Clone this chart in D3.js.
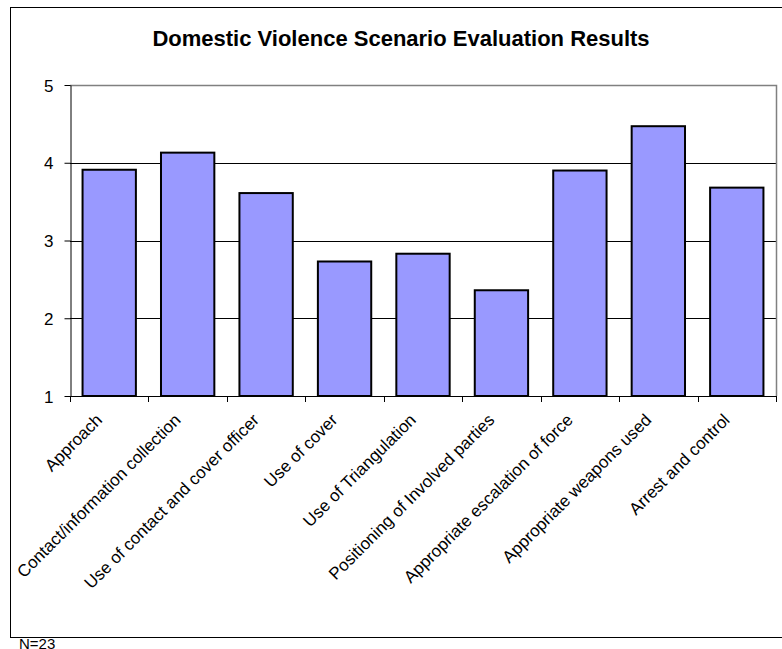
<!DOCTYPE html>
<html>
<head>
<meta charset="utf-8">
<script src="https://cdn.jsdelivr.net/npm/d3@7"></script>
<style>
    body { margin: 0; background: #fff; }
    svg { display: block; font-family: Arial, "Liberation Sans", sans-serif; }
</style>
</head>
<body>
<div id="chart"></div>
<script>
const categories = [
    'Approach',
    'Contact/information collection',
    'Use of contact and cover officer',
    'Use of cover',
    'Use of Triangulation',
    'Positioning of Involved parties',
    'Appropriate escalation of force',
    'Appropriate weapons used',
    'Arrest and control'
]
const scores = [3.91, 4.13, 3.61, 2.73, 2.83, 2.36, 3.90, 4.47, 3.68]
const yTicks = [1, 2, 3, 4, 5]

const title = 'Domestic Violence Scenario Evaluation Results'
const note = 'N=23'

const width = 782, height = 649
const margin = {left: 70, top: 85, right: 776, bottom: 396}

const svg = d3.select('#chart').append('svg')
    .attr('width', width)
    .attr('height', height)

// outer chart border (right edge runs past the window)
svg.append('rect')
    .attr('x', 10.5)
    .attr('y', 7.5)
    .attr('width', 800)
    .attr('height', 630)
    .style('fill', 'none')
    .style('stroke', '#000')
    .style('stroke-width', 1)

svg.append('text')
    .attr('x', 401)
    .attr('y', 46)
    .style('text-anchor', 'middle')
    .style('font-weight', 'bold')
    .style('font-size', '22px')
    .text(title)

const x_scale = d3.scaleBand()
    .domain(categories)
    .range([margin.left, margin.right])
    .paddingInner(0.32)
    .paddingOuter(0.16)

const y_scale = d3.scaleLinear()
    .domain([1, 5])
    .range([margin.bottom, margin.top])

// grid lines
svg.append('g')
    .selectAll('line')
    .data(yTicks.slice(1, 4))
    .join('line')
    .attr('x1', margin.left)
    .attr('x2', margin.right)
    .attr('y1', d => Math.round(y_scale(d)) + 0.5)
    .attr('y2', d => Math.round(y_scale(d)) + 0.5)
    .style('stroke', '#000')
    .style('stroke-width', 1)

// plot area border, top and right
svg.append('path')
    .attr('d', `M${margin.left},${margin.top + 0.5}H${margin.right + 0.5}V${margin.bottom}`)
    .style('fill', 'none')
    .style('stroke', '#808080')
    .style('stroke-width', 1.5)

// bars
svg.append('g')
    .selectAll('rect')
    .data(scores)
    .join('rect')
    .attr('x', (d, i) => x_scale(categories[i]))
    .attr('width', x_scale.bandwidth())
    .attr('y', d => y_scale(d))
    .attr('height', d => y_scale(1) - y_scale(d))
    .style('fill', '#9999ff')
    .style('stroke', '#000')
    .style('stroke-width', 2)

// y axis
const yAxis = svg.append('g')
    .attr('transform', `translate(${margin.left + 0.5}, 0)`)
    .call(d3.axisLeft(y_scale).tickValues(yTicks).tickFormat(d3.format('d')).tickSize(6).tickSizeOuter(0))
yAxis.select('.domain').style('stroke', '#000')
yAxis.selectAll('.tick text')
    .attr('x', -17)
    .attr('dy', '0.36em')
    .style('font-size', '17px')
    .style('font-family', 'Arial, "Liberation Sans", sans-serif')

// x axis: ticks sit on the band boundaries
const boundaries = d3.range(categories.length + 1).map(i => margin.left + i * (margin.right - margin.left) / categories.length)
const xAxis = svg.append('g')
xAxis.append('line')
    .attr('x1', margin.left)
    .attr('x2', margin.right + 1)
    .attr('y1', margin.bottom + 0.5)
    .attr('y2', margin.bottom + 0.5)
    .style('stroke', '#000')
xAxis.selectAll('line.tick')
    .data(boundaries)
    .join('line')
    .classed('tick', true)
    .attr('x1', d => Math.round(d) + 0.5)
    .attr('x2', d => Math.round(d) + 0.5)
    .attr('y1', margin.bottom)
    .attr('y2', margin.bottom + 6)
    .style('stroke', '#000')

xAxis.selectAll('text')
    .data(categories)
    .join('text')
    .attr('transform', d => `translate(${x_scale(d) + x_scale.bandwidth() / 2 - 6}, ${margin.bottom + 25})rotate(-45)`)
    .style('text-anchor', 'end')
    .style('font-size', '17px')
    .text(d => d)

svg.append('text')
    .attr('x', 19)
    .attr('y', 649)
    .style('font-size', '15px')
    .text(note)
</script>
</body>
</html>
